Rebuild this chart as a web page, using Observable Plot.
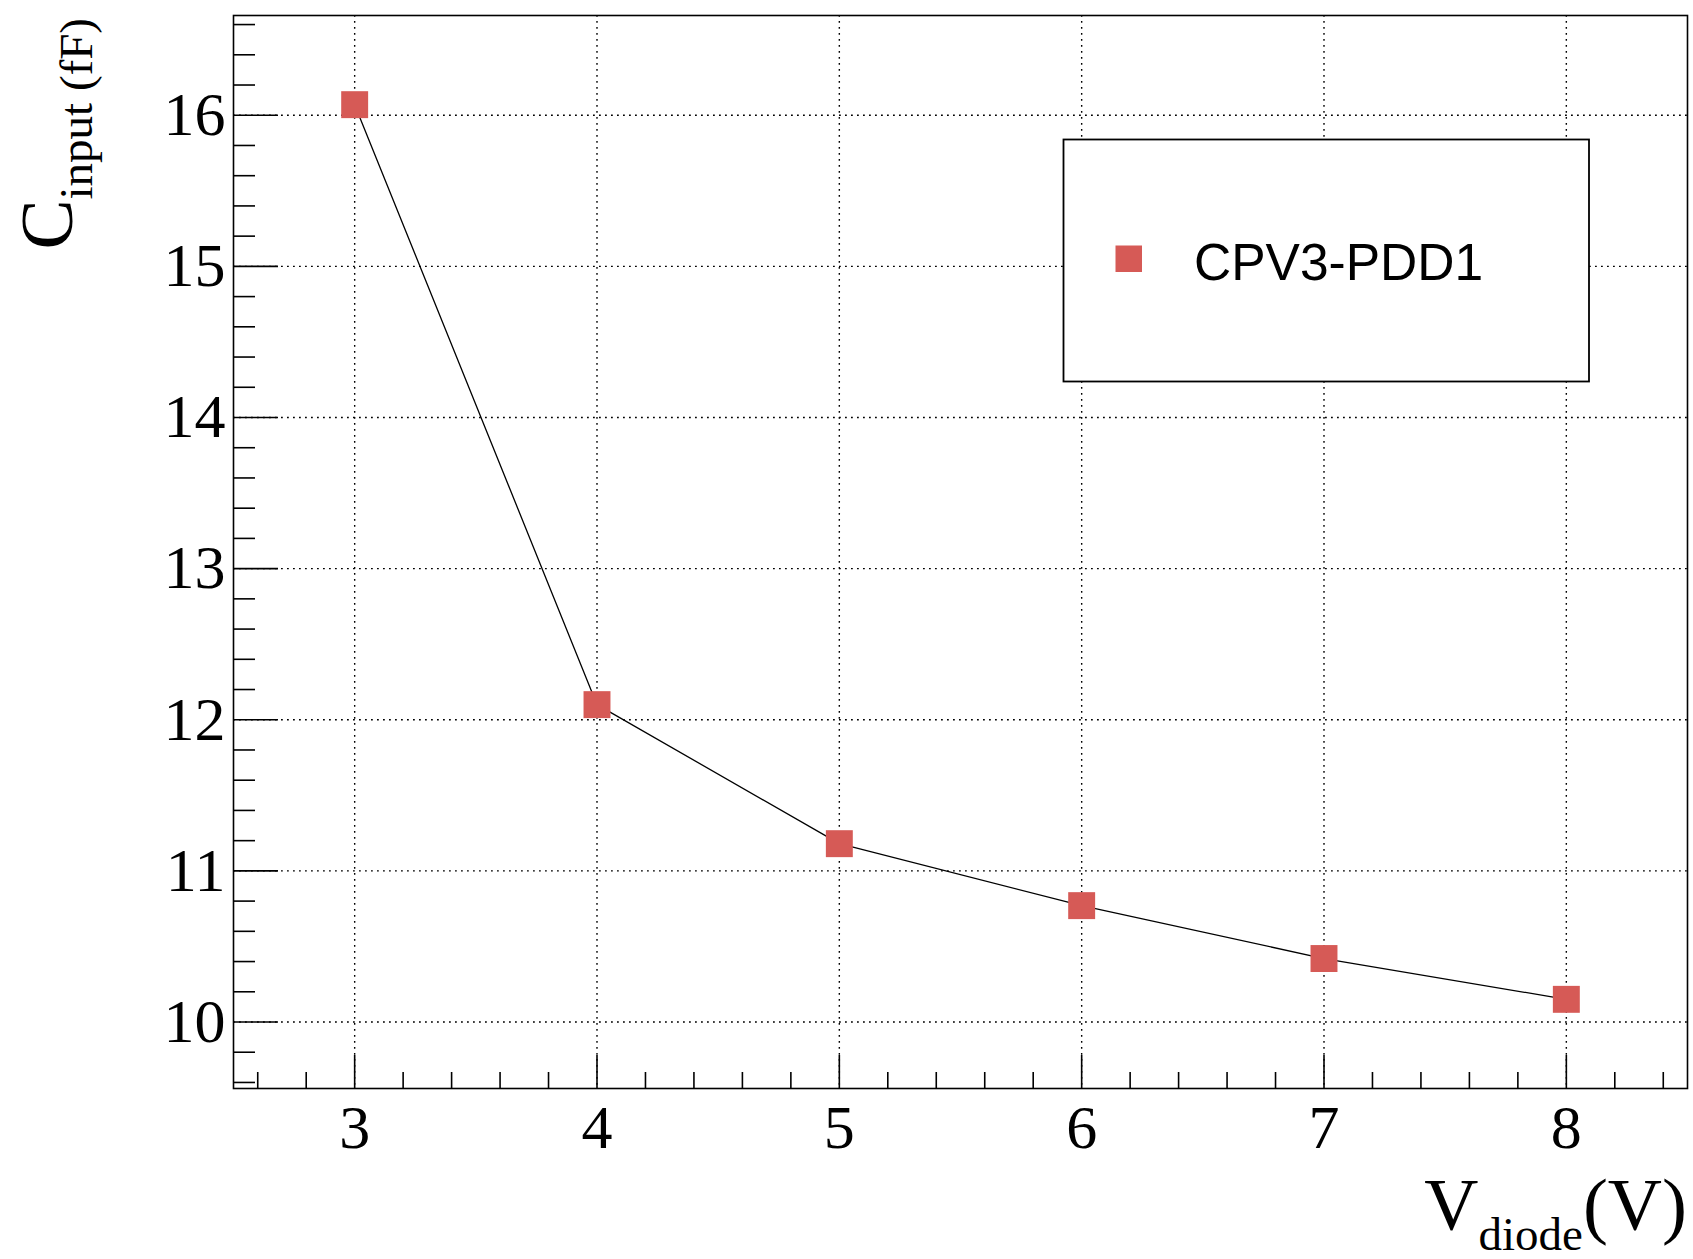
<!DOCTYPE html>
<html>
<head>
<meta charset="utf-8">
<script src="https://cdn.jsdelivr.net/npm/d3@7"></script>
<script src="https://cdn.jsdelivr.net/npm/@observablehq/plot@0.6"></script>
<style>
  html, body { margin: 0; padding: 0; background: white; }
  #chart svg { display: block; }
</style>
</head>
<body>
<div id="chart"></div>
<script>
// ---- data ----
const voltages = [3, 4, 5, 6, 7, 8];
const capacitance = [16.07, 12.10, 11.18, 10.77, 10.42, 10.15];
const seriesName = "CPV3-PDD1";
const xTickValues = [3, 4, 5, 6, 7, 8];
const yTickValues = [10, 11, 12, 13, 14, 15, 16];
const xMinorTicks = d3.range(26, 86, 2).map(v => v / 10).filter(v => !xTickValues.includes(v));
const yMinorTicks = d3.range(96, 167, 2).map(v => v / 10).filter(v => !yTickValues.includes(v));

const points = voltages.map((v, i) => ({ v, c: capacitance[i] }));

const markerColor = "#d65a56";
const gridDash = "1.8,4.2";
const intFmt = d3.format("d");

const svg = Plot.plot({
  width: 1693,
  height: 1259,
  marginLeft: 233,
  marginRight: 6,
  marginTop: 15,
  marginBottom: 171,
  style: { fontFamily: "Liberation Serif, Times New Roman, serif", fontSize: "62px", background: "white", color: "black", overflow: "visible" },
  x: { domain: [2.5, 8.5] },
  y: { domain: [9.56, 16.66] },
  marks: [
    Plot.gridX(xTickValues, { stroke: "black", strokeOpacity: 1, strokeWidth: 1.4, strokeDasharray: gridDash }),
    Plot.gridY(yTickValues, { stroke: "black", strokeOpacity: 1, strokeWidth: 1.4, strokeDasharray: gridDash }),
    // labels
    Plot.axisX(xTickValues, { tickSize: 0, tickPadding: 15, label: null, fontSize: 62, tickFormat: intFmt }),
    Plot.axisY(yTickValues, { tickSize: 0, tickPadding: 8, label: null, fontSize: 62, tickFormat: intFmt }),
    // inward ticks
    Plot.axisX(xTickValues, { tickSize: -33, tickFormat: () => "", label: null, strokeWidth: 1.6 }),
    Plot.axisX(xMinorTicks, { tickSize: -16, tickFormat: () => "", label: null, strokeWidth: 1.6 }),
    Plot.axisY(yTickValues, { tickSize: -45, tickFormat: () => "", label: null, strokeWidth: 1.6 }),
    Plot.axisY(yMinorTicks, { tickSize: -22, tickFormat: () => "", label: null, strokeWidth: 1.6 }),
    Plot.line(points, { x: "v", y: "c", stroke: "black", strokeWidth: 1.3 }),
    Plot.dot(points, { x: "v", y: "c", symbol: "square", r: 15.2, fill: markerColor, stroke: "none" }),
    Plot.frame({ stroke: "black", strokeWidth: 1.6 })
  ]
});

const s = d3.select(svg);
const serif = "Liberation Serif, Times New Roman, serif";

// x-axis title: V_diode(V)
const xt = s.append("text")
  .attr("x", 1687).attr("y", 1230)
  .attr("text-anchor", "end")
  .attr("font-family", serif)
  .attr("fill", "black");
xt.append("tspan").attr("font-size", 75).text("V");
xt.append("tspan").attr("font-size", 47).attr("dy", 20).text("diode");
xt.append("tspan").attr("font-size", 75).attr("dy", -20).text("(V)");

// y-axis title: C_input (fF)
const yt = s.append("text")
  .attr("transform", "translate(72,18) rotate(-90)")
  .attr("text-anchor", "end")
  .attr("font-family", serif)
  .attr("fill", "black");
yt.append("tspan").attr("font-size", 75).text("C");
yt.append("tspan").attr("font-size", 47).attr("dy", 20).text("input (fF)");

// legend box
const lg = s.append("g");
lg.append("rect")
  .attr("x", 1063.5).attr("y", 139.5)
  .attr("width", 525.5).attr("height", 242)
  .attr("fill", "white").attr("stroke", "black").attr("stroke-width", 1.8);
lg.append("rect")
  .attr("x", 1115.5).attr("y", 245.5)
  .attr("width", 26.5).attr("height", 26.5)
  .attr("fill", markerColor);
lg.append("text")
  .attr("x", 1194).attr("y", 280)
  .attr("text-anchor", "start")
  .attr("font-family", "Liberation Sans, Arial, Helvetica, sans-serif")
  .attr("font-size", 51.5)
  .attr("fill", "black")
  .text(seriesName);

document.getElementById("chart").appendChild(svg);
</script>
</body>
</html>
